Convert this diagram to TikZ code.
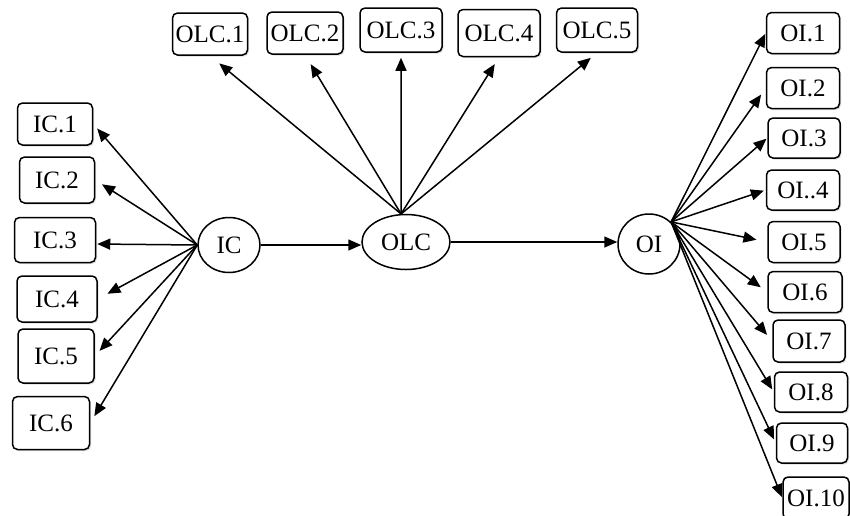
\documentclass[tikz,border=0pt]{standalone}
\usepackage{fontspec}
\setmainfont{Liberation Serif}
\usetikzlibrary{arrows.meta,shapes.geometric,shadows}
\begin{document}
\begin{tikzpicture}[x=1pt,y=-1pt,
  box/.style={draw, line width=1.5pt, rounded corners=5pt, inner sep=0pt, fill=white,
    drop shadow={opacity=0.25, shadow xshift=1.5pt, shadow yshift=-1.5pt},
    font=\fontsize{25}{28}\selectfont},
  lat/.style={draw, ellipse, line width=1.5pt, inner sep=0pt, fill=white,
    font=\fontsize{25}{28}\selectfont},
  arr/.style={line width=1.5pt, -{Triangle[length=13pt,width=11pt]}}]
\useasboundingbox (0,0) rectangle (850,515);
% latent nodes
\node[lat, minimum width=62pt, minimum height=55pt] (IC) at (229,245) {IC};
\node[lat, minimum width=88pt, minimum height=55pt] (OLC) at (406,242) {OLC};
\node[lat, minimum width=62pt, minimum height=60pt] (OI) at (649,244) {OI};
% IC indicators
\node[box, minimum width=75pt, minimum height=42pt] (IC1) at (55,124) {IC.1};
\node[box, minimum width=75pt, minimum height=46pt] (IC2) at (57,180) {IC.2};
\node[box, minimum width=81pt, minimum height=45pt] (IC3) at (55,240) {IC.3};
\node[box, minimum width=80pt, minimum height=46pt] (IC4) at (57,299) {IC.4};
\node[box, minimum width=76pt, minimum height=54pt] (IC5) at (56,356) {IC.5};
\node[box, minimum width=77pt, minimum height=53pt] (IC6) at (51,423) {IC.6};
% OLC indicators
\node[box, minimum width=75pt, minimum height=42pt] (OLC1) at (210,34) {OLC.1};
\node[box, minimum width=76pt, minimum height=42pt] (OLC2) at (305,33) {OLC.2};
\node[box, minimum width=82pt, minimum height=44pt] (OLC3) at (401,30) {OLC.3};
\node[box, minimum width=82pt, minimum height=47pt] (OLC4) at (499,33) {OLC.4};
\node[box, minimum width=81pt, minimum height=44pt] (OLC5) at (597,30) {OLC.5};
% OI indicators
\node[box, minimum width=73pt, minimum height=41pt] (OI1) at (803,33) {OI.1};
\node[box, minimum width=73pt, minimum height=41pt] (OI2) at (803,88) {OI.2};
\node[box, minimum width=72pt, minimum height=40pt] (OI3) at (804,138) {OI.3};
\node[box, minimum width=73pt, minimum height=40pt] (OI4) at (803,190) {OI..4};
\node[box, minimum width=72pt, minimum height=41pt] (OI5) at (804,242) {OI.5};
\node[box, minimum width=74pt, minimum height=41pt] (OI6) at (805,292) {OI.6};
\node[box, minimum width=72pt, minimum height=42pt] (OI7) at (809,341) {OI.7};
\node[box, minimum width=73pt, minimum height=40pt] (OI8) at (811,392) {OI.8};
\node[box, minimum width=71pt, minimum height=40pt] (OI9) at (812,443) {OI.9};
\node[box, minimum width=66pt, minimum height=42pt] (OI10) at (816,498) {OI.10};
% structural arrows
\draw[arr] (IC.east) -- (IC.east -| OLC.west);
\draw[arr] (OLC.east) -- (OLC.east -| OI.west);
% IC fan
\coordinate (icf) at (IC.west);
\draw[arr, shorten >=6pt] (icf) -- (IC1.east);
\draw[arr, shorten >=8pt] (icf) -- (IC2.east);
\draw[arr, shorten >=1pt] (icf) -- ([yshift=-4pt]IC3.east);
\draw[arr, shorten >=11pt] (icf) -- (IC4.east);
\draw[arr, shorten >=7pt] (icf) -- (IC5.east);
\draw[arr, shorten >=8pt] (icf) -- (IC6.east);
% OLC fan
\coordinate (olcf) at (OLC.100);
\draw[arr, shorten >=12pt] (olcf) -- (OLC1.south);
\draw[arr, shorten >=11pt] (olcf) -- (OLC2.south);
\draw[arr, shorten >=5pt] (olcf) -- (OLC3.south);
\draw[arr, shorten >=8pt] (olcf) -- (OLC4.south);
\draw[arr, shorten >=8pt] (olcf) -- (OLC5.south);
% OI fan
\coordinate (oif) at (OI.45);
\draw[arr, shorten >=1pt] (oif) -- (OI1.west);
\draw[arr, shorten >=8pt] (oif) -- (OI2.west);
\draw[arr, shorten >=1pt] (oif) -- (OI3.west);
\draw[arr, shorten >=2pt] (oif) -- (OI4.west);
\draw[arr, shorten >=11pt] (oif) -- (OI5.west);
\draw[arr, shorten >=8pt] (oif) -- (OI6.west);
\draw[arr, shorten >=8pt] (oif) -- (OI7.west);
\draw[arr, shorten >=3pt] (oif) -- (OI8.west);
\draw[arr, shorten >=4pt] (oif) -- (OI9.west);
\draw[arr, shorten >=1pt] (oif) -- (OI10.west);
\end{tikzpicture}
\end{document}
